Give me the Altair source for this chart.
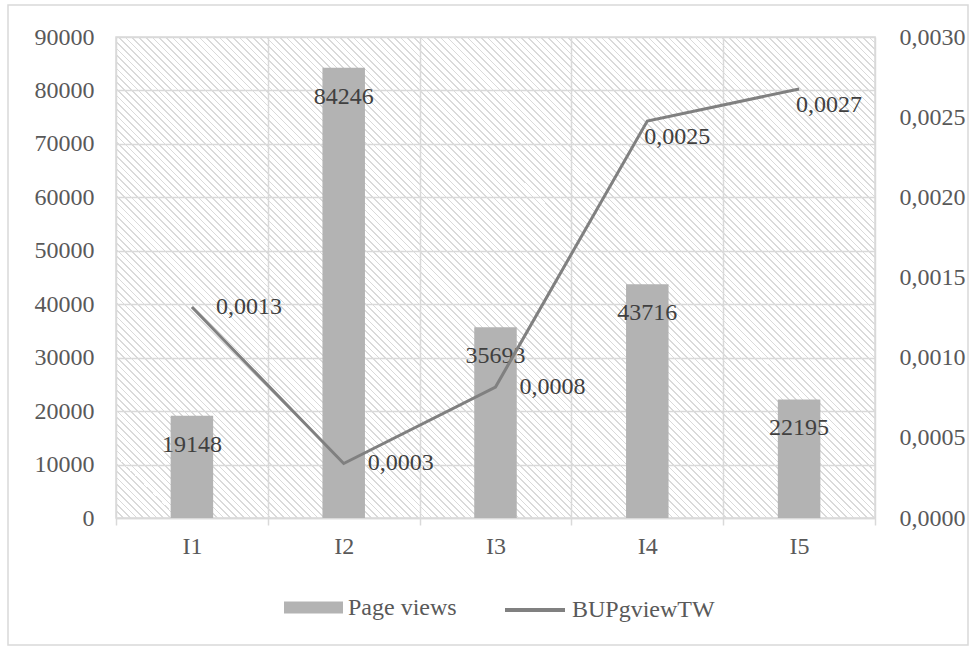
import altair as alt
import pandas as pd

# ---- data ----
categories = ["I1", "I2", "I3", "I4", "I5"]
page_views = [19148, 84246, 35693, 43716, 22195]
bupgview_tw = [0.001316, 0.00034, 0.000817, 0.002476, 0.002676]
left_ticks = [0, 10000, 20000, 30000, 40000, 50000, 60000, 70000, 80000, 90000]
right_ticks = [0.0, 0.0005, 0.001, 0.0015, 0.002, 0.0025, 0.003]

df = pd.DataFrame({"cat": categories, "pv": page_views, "bup": bupgview_tw})
df["s_bar"] = "Page views"
df["s_line"] = "BUPgviewTW"

W, H = 759, 481
FONT = "Liberation Serif"
GRID = "#d9d9d9"
LABEL = "#595959"
DLABEL = "#404040"
BAR = "#b3b3b3"
LINE = "#808080"

# ---- hatch pattern as a striped linear gradient (decoration) ----
n_stripes, frac = 185, 0.25
stops = []
for i in range(n_stripes):
    a, b, c = i / n_stripes, (i + frac) / n_stripes, (i + 1) / n_stripes
    stops += [
        alt.GradientStop(color="#dadada", offset=a),
        alt.GradientStop(color="#dadada", offset=b),
        alt.GradientStop(color="rgba(255,255,255,0)", offset=b),
        alt.GradientStop(color="rgba(255,255,255,0)", offset=c),
    ]
g = H / W
s = (1 + g) / (1 + g * g)
hatch_fill = alt.LinearGradient(
    gradient="linear", stops=stops, x1=0, y1=1, x2=s, y2=1 - s * g
)

deco = alt.Data(values=[{}])

frame = alt.Chart(deco).mark_rect(
    fillOpacity=0, stroke=GRID, strokeWidth=1.5
).encode(
    x=alt.value(-108), x2=alt.value(852), y=alt.value(-32), y2=alt.value(608)
)

hatch = alt.Chart(deco).mark_rect(fill=hatch_fill).encode(
    x=alt.value(0), x2=alt.value(W), y=alt.value(0), y2=alt.value(H)
)

x_enc = alt.X(
    "cat:N",
    sort=categories,
    scale=alt.Scale(paddingInner=0, paddingOuter=0),
    axis=alt.Axis(
        title=None, labelAngle=0, tickBand="extent", grid=True,
        gridColor=GRID, gridWidth=1.5, tickColor=GRID, tickWidth=1.5, tickSize=7,
        domainColor=GRID, domainWidth=1.5,
        labelFont=FONT, labelFontSize=24, labelColor=LABEL, labelPadding=9,
    ),
)

base = alt.Chart(df)

bars = base.mark_bar(width=alt.RelativeBandSize(0.28)).encode(
    x=x_enc,
    y=alt.Y(
        "pv:Q",
        scale=alt.Scale(domain=[0, 90000]),
        axis=alt.Axis(
            title=None, orient="left", values=left_ticks, format="d",
            grid=True, gridColor=GRID, gridWidth=1.5, domain=False, ticks=False,
            labelFont=FONT, labelFontSize=24, labelColor=LABEL, labelPadding=22,
        ),
    ),
    fill=alt.Fill(
        "s_bar:N",
        scale=alt.Scale(domain=["Page views"], range=[BAR]),
        legend=alt.Legend(
            title=None, orient="none", legendX=168, legendY=541, padding=0,
            symbolType="M-1,-0.2L1,-0.2L1,0.2L-1,0.2Z", symbolSize=3481,
            symbolStrokeWidth=0, symbolOpacity=1,
            labelFont=FONT, labelFontSize=24, labelColor=LABEL, labelOffset=5,
        ),
    ),
)

bar_text = base.mark_text(
    font=FONT, fontSize=24, color=DLABEL, align="center", baseline="middle", dy=29
).encode(x=alt.X("cat:N", sort=categories), y=alt.Y("pv:Q"), text=alt.Text("pv:Q", format="d"))

left = alt.layer(bars, bar_text)

y_right = alt.Y(
    "bup:Q",
    scale=alt.Scale(domain=[0, 0.003]),
    axis=alt.Axis(
        title=None, orient="right", values=right_ticks, grid=False,
        domain=False, ticks=False,
        labelExpr="replace(format(datum.value, '.4f'), '.', ',')",
        labelFont=FONT, labelFontSize=24, labelColor=LABEL, labelPadding=24,
    ),
)

line = base.mark_line(strokeWidth=3).encode(
    x=alt.X("cat:N", sort=categories),
    y=y_right,
    stroke=alt.Stroke(
        "s_line:N",
        scale=alt.Scale(domain=["BUPgviewTW"], range=[LINE]),
        legend=alt.Legend(
            title=None, orient="none", legendX=387, legendY=541, padding=0,
            symbolType="stroke", symbolSize=3600, symbolStrokeWidth=4,
            labelFont=FONT, labelFontSize=24, labelColor=LABEL, labelOffset=5,
        ),
    ),
)

line_lab = base.transform_calculate(
    lab="replace(format(datum.bup, '.4f'), '.', ',')"
)

line_text_a = line_lab.transform_filter(
    "datum.cat != 'I4' && datum.cat != 'I5'"
).mark_text(
    font=FONT, fontSize=24, color=DLABEL, align="left", baseline="middle", dx=24
).encode(x=alt.X("cat:N", sort=categories), y=alt.Y("bup:Q"), text="lab:N")

line_text_b = line_lab.transform_filter(
    "datum.cat == 'I4' || datum.cat == 'I5'"
).mark_text(
    font=FONT, fontSize=24, color=DLABEL, align="left", baseline="middle", dx=-3, dy=16
).encode(x=alt.X("cat:N", sort=categories), y=alt.Y("bup:Q"), text="lab:N")

right = alt.layer(line, line_text_a, line_text_b)

chart = (
    alt.layer(frame, hatch, left, right)
    .resolve_scale(y="independent")
    .properties(
        width=W,
        height=H,
        padding={"left": 116, "top": 37, "right": 101, "bottom": 131},
        autosize=alt.AutoSizeParams(type="none"),
        background="white",
    )
    .configure_view(stroke=GRID, strokeWidth=1.5)
)

chart.save("out.html", embed_options={"renderer": "svg", "actions": False})
